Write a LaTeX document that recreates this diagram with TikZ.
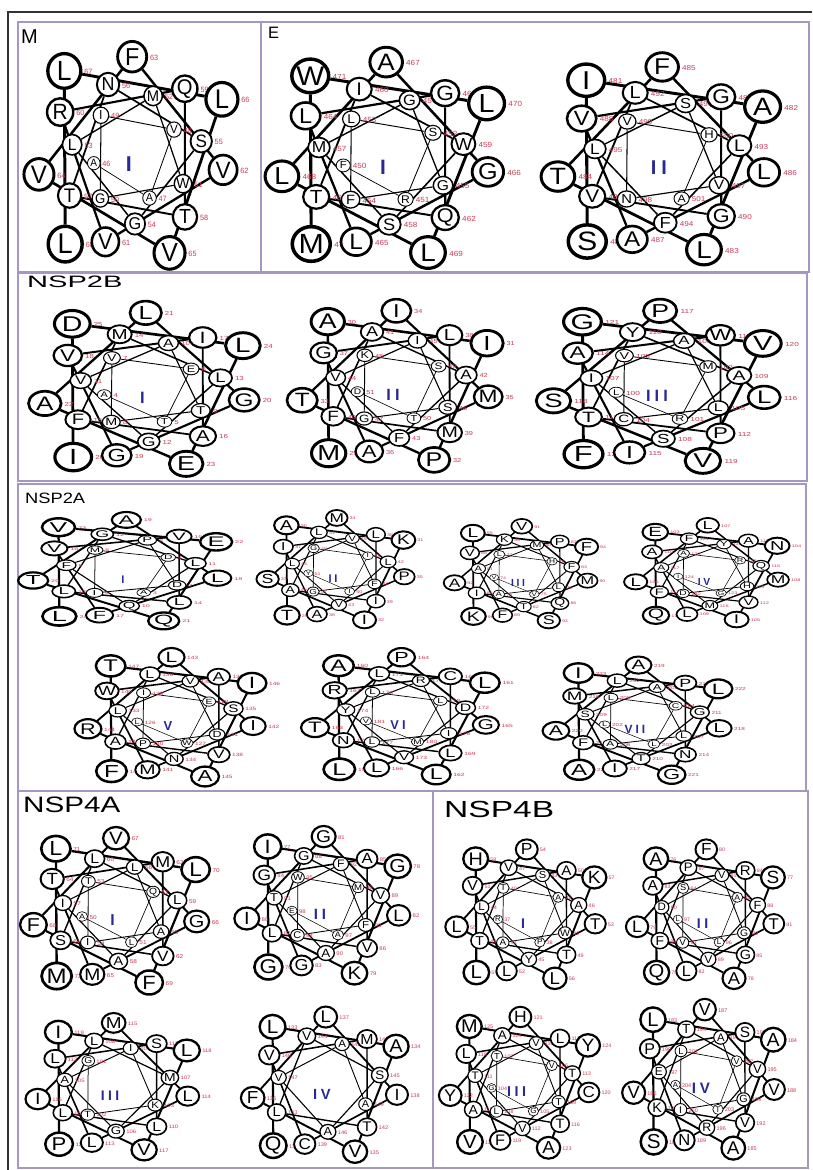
\documentclass[tikz,border=0pt]{standalone}
\usepackage{fontspec}
\setmainfont{Liberation Sans}
\newfontfamily\romfont[LetterSpace=25]{Liberation Sans}
\usepackage{graphicx}
\usepackage{tikz}
\usetikzlibrary{positioning}
\definecolor{numred}{RGB}{200,60,85}
\definecolor{romanblue}{RGB}{40,40,150}
\definecolor{panelpurple}{RGB}{165,150,195}
\pgfdeclarelayer{bg}
\pgfdeclarelayer{lab}
\pgfsetlayers{bg,lab,main}
\tikzset{
	res/.style={circle,draw,fill=white,inner sep=0pt,transform shape},
	resnum/.style={text=numred,inner sep=0.3pt,transform shape,font=\fontsize{7.5}{7.5}\selectfont},
	wheelnum/.style={text=romanblue,inner sep=0pt},
	panel/.style={draw=panelpurple,line width=1.1pt},
	paneltitle/.style={anchor=west,inner sep=0pt}
}
% #1 name, #2 #3 centre, #4 #5 x/y scale, #6 first ring position, #7 numbering, #8 roman, #9 residues
\newcommand\helixwheel[9]{%
	\pgfmathsetmacro\wsc{(#4+#5)/2}
	\pgfmathsetmacro\rfs{21*#5}
	\begin{scope}[shift={(#2,#3)},xscale=#4,yscale=#5]
		\foreach \res [count=\idx from 0] in {#9}{
			\pgfmathtruncatemacro\kpos{\idx+#6}
			\pgfmathsetmacro\crad{6.5+0.5*\kpos}
			\pgfmathsetmacro\cdia{2*\crad}
			\pgfmathsetmacro\lfs{1.6*\crad}
			\pgfmathsetmacro\blw{(0.8+0.12*\kpos)*\wsc}
			\node[res,minimum size=\cdia pt,line width=\blw pt,font=\fontsize{\lfs}{\lfs}\selectfont]
				(#1-\kpos) at ({-191-100*\kpos}:{42+3.2*\kpos}) {\res};
		}
		\begin{pgfonlayer}{lab}
			\foreach \kpos in {#6,...,22}{
				\pgfmathtruncatemacro\resno{#7}
				\node[resnum,right=1.5pt of #1-\kpos,yshift=-1pt] (#1-\kpos-no) {\resno};
			}
		\end{pgfonlayer}
		\begin{pgfonlayer}{bg}
			\foreach \kpos in {#6,...,21}{
				\pgfmathtruncatemacro\knext{\kpos+1}
				\pgfmathsetmacro\slw{(0.7+0.11*\kpos)*\wsc}
				\draw[line width=\slw pt] (#1-\kpos) -- (#1-\knext);
			}
		\end{pgfonlayer}
	\end{scope}
	\node[wheelnum,font=\romfont\bfseries\fontsize{\rfs}{\rfs}\selectfont] (#1-num) at ({#2-5},{#3+9.5}) {#8};
}

\begin{document}
\begin{tikzpicture}[x=1pt,y=-1pt]
	\begin{pgfonlayer}{bg}
		\fill[white] (0,0) rectangle (812,1170);
	\end{pgfonlayer}
	\useasboundingbox (0,0) rectangle (812,1170);

	% frames
	\draw[line width=1.3pt,black!80] (8,1170) -- (8,12) -- (812,12);
	\draw[panel] (18,22) rectangle (261,272);
	\draw[panel] (261,22) rectangle (809,272);
	\draw[panel] (18,273) rectangle (807,481);
	\draw[panel] (18,484) rectangle (806,791);
	\draw[panel] (18,791) rectangle (433,1168);
	\draw[panel] (433,791) rectangle (808,1168);

	% titles
	\node[paneltitle,font=\fontsize{20}{20}\selectfont] (m-title) at (21,37) {M};
	\node[paneltitle,font=\fontsize{16.5}{16.5}\selectfont] (e-title) at (268,33) {E};
	\node[paneltitle,font=\fontsize{16.5}{16.5}\selectfont] (nsp2b-title) at (27,282) {\scalebox{1.76}[1]{NSP2B}};
	\node[paneltitle,font=\fontsize{15}{15}\selectfont] (nsp2a-title) at (25,498) {\scalebox{1.22}[1]{NSP2A}};
	\node[paneltitle,font=\fontsize{22.3}{22.3}\selectfont] (nsp4a-title) at (23,805) {\scalebox{1.33}[1]{NSP4A}};
	\node[paneltitle,font=\fontsize{23.3}{23.3}\selectfont] (nsp4b-title) at (444,809) {\scalebox{1.44}[1]{NSP4B}};

	% M and E
	\helixwheel{m}{133.8}{155}{0.97}{1.02}{0}{46+\kpos}{I}{A,A,V,I,G,W,M,L,G,S,N,T,T,Q,R,V,V,F,V,V,L,L,L}
	\helixwheel{e1}{388}{157.5}{1.085}{0.99}{0}{450+\kpos}{I}{F,R,S,L,F,G,G,M,S,W,I,T,Q,G,L,L,G,A,L,L,L,W,M}
	\helixwheel{e2}{664}{158.5}{1.085}{0.95}{1}{502-\kpos}{II}{A,H,V,N,V,S,L,F,L,L,V,G,G,V,A,L,F,T,L,A,I,S}

	% NSP2B
	\helixwheel{b1}{147.5}{388.5}{1.05}{0.785}{0}{4+\kpos}{I}{A,T,E,V,M,T,A,V,G,L,M,F,A,I,V,G,G,L,A,E,L,D,I}
	\helixwheel{b2}{398}{385.5}{0.98}{0.775}{0}{51-\kpos}{II}{D,T,S,K,G,S,I,V,F,A,A,F,M,L,G,A,M,I,T,P,I,A,M}
	\helixwheel{b3}{662}{386}{1.11}{0.78}{0}{100+\kpos}{III}{L,R,M,V,C,L,A,I,S,A,Y,T,P,W,A,I,L,P,S,V,V,G,F}

	% NSP2A
	\helixwheel{a1}{128}{570.5}{0.97}{0.525}{1}{2+\kpos}{I}{A,D,M,I,D,P,F,Q,L,G,L,L,V,V,F,L,A,T,Q,E,V,L}
	\helixwheel{a2}{338}{569}{0.72}{0.53}{0}{51-\kpos}{II}{Y,I,I,G,G,F,V,L,V,L,L,A,I,L,I,A,P,M,S,I,K,A,T}
	\helixwheel{a3}{523}{573.5}{0.70}{0.49}{0}{74+\kpos}{III}{V,V,H,L,A,L,M,A,T,F,K,I,Q,P,V,F,M,V,A,S,F,L,K}
	\helixwheel{a4}{709}{572.5}{0.75}{0.49}{0}{124-\kpos}{IV}{I,G,R,A,D,H,Y,A,M,Q,F,F,V,A,A,L,M,L,L,I,N,E,Q}
	\helixwheel{a5}{173}{717}{0.87}{0.62}{0}{126+\kpos}{V}{L,W,E,I,P,D,V,L,N,S,L,A,V,A,W,M,I,L,R,A,I,T,F}
	\helixwheel{a6}{403}{716}{0.90}{0.61}{0}{181-\kpos}{VI}{V,M,L,L,L,I,R,Y,V,D,L,N,L,C,R,L,G,P,T,L,L,A,L}
	\helixwheel{a7}{640}{720}{0.86}{0.57}{0}{202+\kpos}{VII}{L,L,C,L,A,L,A,S,T,G,L,F,N,P,M,I,L,A,A,G,L,I,A}

	% NSP4A
	\helixwheel{c1}{117.5}{910.5}{0.86}{0.75}{0}{50+\kpos}{I}{A,L,Q,T,I,A,L,I,A,L,L,S,V,M,T,M,G,V,F,F,L,L,M}
	\helixwheel{c2}{325}{905}{0.80}{0.71}{0}{98-\kpos}{II}{E,A,M,W,C,F,F,T,A,V,G,L,V,A,G,G,L,G,I,K,G,I,G}
	\helixwheel{c3}{115}{1086.5}{0.79}{0.66}{3}{98+\kpos}{III}{G,T,K,I,A,G,M,L,L,L,S,L,L,L,M,I,V,L,I,P}
	\helixwheel{c4}{327}{1084.5}{0.76}{0.70}{5}{154-\kpos}{IV}{A,A,V,A,S,V,L,T,M,V,C,I,L,F,V,A,L,Q}

	% NSP4B
	\helixwheel{d1}{528}{914}{0.73}{0.67}{0}{37+\kpos}{I}{R,P,A,T,A,W,S,L,Y,A,V,T,T,A,V,L,T,P,L,L,K,H,L}
	\helixwheel{d2}{707.5}{914}{0.72}{0.67}{0}{97-\kpos}{II}{L,L,A,S,V,G,V,D,V,F,P,F,G,R,A,L,T,F,L,A,S,A,Q}
	\helixwheel{d3}{521.6}{1082.5}{0.73}{0.68}{0}{104+\kpos}{III}{G,G,V,T,L,T,V,T,V,T,A,A,T,L,L,F,C,H,Y,A,Y,M,V}
	\helixwheel{d4}{706}{1079}{0.74}{0.72}{0}{204-\kpos}{IV}{A,T,V,L,I,G,A,E,R,V,T,K,V,S,P,N,V,V,V,A,A,L,S}
\end{tikzpicture}
\end{document}
